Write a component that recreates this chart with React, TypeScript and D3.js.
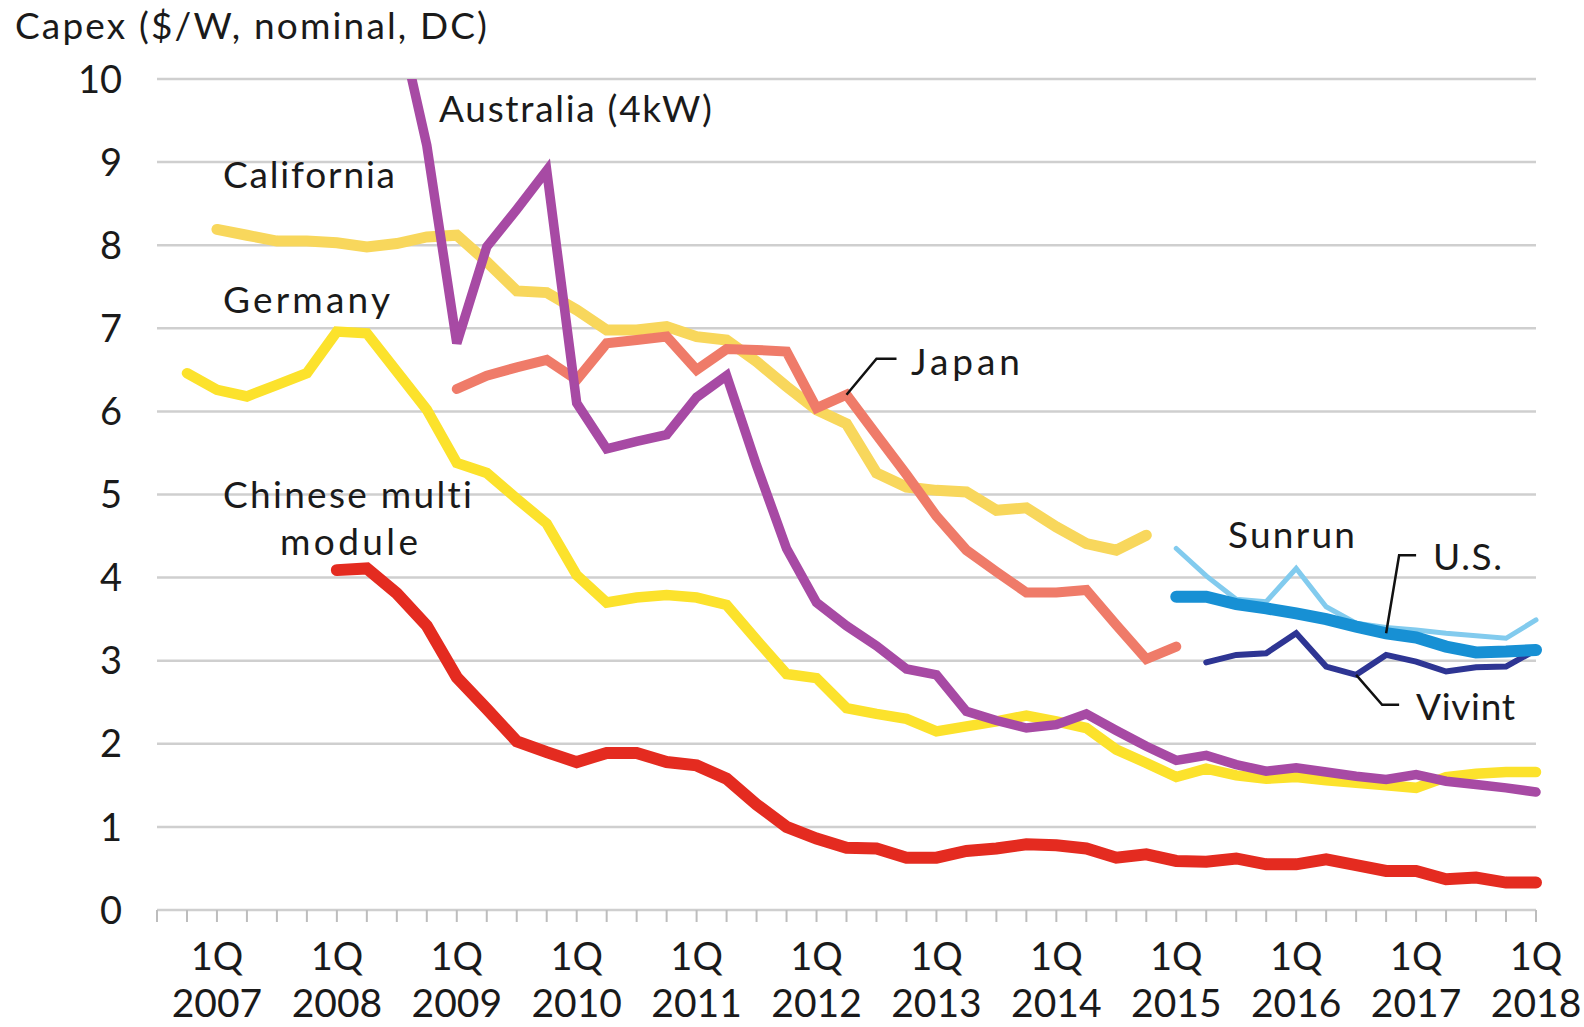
import React from "react";
import * as d3 from "d3";

// quarters from 3Q2006 to 1Q2018
const quarters: string[] = d3
  .range(47)
  .map((i) => `${((i + 2) % 4) + 1}Q${2006 + Math.floor((i + 2) / 4)}`);

const yearTicks = ["2007", "2008", "2009", "2010", "2011", "2012", "2013", "2014", "2015", "2016", "2017", "2018"];
const yTicks = [0, 1, 2, 3, 4, 5, 6, 7, 8, 9, 10];

// $/W, one value per quarter from the start quarter
const california = [
  8.19, 8.12, 8.05, 8.05, 8.03, 7.98, 8.02, 8.1, 8.12, 7.8, 7.45, 7.43, 7.22, 6.98, 6.98, 7.02,
  6.9, 6.86, 6.6, 6.3, 6.02, 5.85, 5.26, 5.09, 5.05, 5.03, 4.81, 4.84, 4.61, 4.41, 4.33, 4.51,
];
const germany = [
  6.46, 6.26, 6.18, 6.32, 6.46, 6.96, 6.94, 6.48, 6.02, 5.38, 5.26, 4.95, 4.65, 4.03, 3.7, 3.76,
  3.79, 3.76, 3.67, 3.25, 2.84, 2.79, 2.43, 2.36, 2.3, 2.15, 2.21, 2.27, 2.34, 2.27, 2.19, 1.93,
  1.77, 1.6, 1.7, 1.62, 1.58, 1.6, 1.56, 1.53, 1.5, 1.47, 1.6, 1.64, 1.66, 1.66,
];
const australia = [
  10.8, 9.2, 6.82, 7.98, 8.43, 8.9, 6.1, 5.55, 5.64, 5.72, 6.17, 6.43, 5.35, 4.35, 3.7, 3.42,
  3.18, 2.9, 2.83, 2.39, 2.28, 2.19, 2.23, 2.36, 2.16, 1.97, 1.8, 1.86, 1.75, 1.67, 1.71, 1.66,
  1.61, 1.57, 1.63, 1.55, 1.51, 1.47, 1.42,
];
const japan = [
  6.27, 6.43, 6.53, 6.62, 6.38, 6.82, 6.86, 6.9, 6.5, 6.75, 6.74, 6.72, 6.04, 6.2, 5.72, 5.24,
  4.74, 4.33, 4.07, 3.82, 3.82, 3.85, 3.43, 3.02, 3.17,
];
const chinese = [
  4.09, 4.11, 3.81, 3.42, 2.8, 2.42, 2.03, 1.9, 1.78, 1.89, 1.89, 1.78, 1.74, 1.58, 1.27, 1.0,
  0.86, 0.75, 0.74, 0.63, 0.63, 0.71, 0.74, 0.79, 0.78, 0.74, 0.63, 0.67, 0.59, 0.58, 0.62, 0.55,
  0.55, 0.61, 0.54, 0.47, 0.47, 0.37, 0.39, 0.33, 0.33,
];
const sunrun = [4.35, 4.02, 3.74, 3.71, 4.11, 3.65, 3.45, 3.4, 3.37, 3.33, 3.3, 3.27, 3.49];
const us = [3.77, 3.77, 3.68, 3.63, 3.57, 3.5, 3.41, 3.33, 3.28, 3.17, 3.1, 3.11, 3.13];
const vivint = [2.98, 3.07, 3.09, 3.33, 2.93, 2.83, 3.07, 2.99, 2.87, 2.92, 2.93, 3.13];

const series = [
  { name: "California", start: "1Q2007", values: california, color: "#F8D75C", width: 11 },
  { name: "Germany", start: "4Q2006", values: germany, color: "#FCE22C", width: 10.5 },
  { name: "Japan", start: "1Q2009", values: japan, color: "#EF7B69", width: 10 },
  { name: "Australia", start: "3Q2008", values: australia, color: "#A74AA4", width: 9.5 },
  { name: "Chinese", start: "1Q2008", values: chinese, color: "#E42B20", width: 12 },
  { name: "Sunrun", start: "1Q2015", values: sunrun, color: "#82CBEE", width: 5 },
  { name: "Vivint", start: "2Q2015", values: vivint, color: "#2E3593", width: 6 },
  { name: "U.S.", start: "1Q2015", values: us, color: "#1790D4", width: 12 },
];

const labels = [
  { text: "Australia (4kW)", x: 439, y: 122, len: 273 },
  { text: "California", x: 223, y: 188, len: 172 },
  { text: "Germany", x: 223, y: 313, len: 167 },
  { text: "Chinese multi", x: 223, y: 508, len: 249 },
  { text: "module", x: 280, y: 555, len: 138 },
  { text: "Japan", x: 911, y: 375, len: 109 },
  { text: "Sunrun", x: 1228, y: 548, len: 127 },
  { text: "U.S.", x: 1433, y: 570, len: 69 },
  { text: "Vivint", x: 1416, y: 720, len: 99 },
];

const font = "Lato, 'Open Sans', sans-serif";

export default function App() {
  const width = 1584;
  const height = 1027;

  const x = d3.scalePoint<string>().domain(quarters).range([157, 1536]);
  const y = d3.scaleLinear().domain([0, 10]).range([910, 79]);

  const line = d3
    .line<[string, number]>()
    .x((d) => x(d[0]) as number)
    .y((d) => y(d[1]));

  const points = (s: { start: string; values: number[] }) => {
    const i0 = quarters.indexOf(s.start);
    return s.values.map((v, i) => [quarters[i0 + i], v] as [string, number]);
  };

  const at = (name: string, q: string) => {
    const s = series.find((d) => d.name === name)!;
    const v = s.values[quarters.indexOf(q) - quarters.indexOf(s.start)];
    return [x(q) as number, y(v)];
  };

  const [jx, jy] = at("Japan", "2Q2012");
  const [ux, uy] = at("U.S.", "4Q2016");
  const [vx, vy] = at("Vivint", "3Q2016");

  const x0 = x.range()[0];
  const x1 = x.range()[1];

  return (
    <svg
      width={width}
      height={height}
      style={{ position: "absolute", left: 0, top: 0, background: "#fff", fontVariantLigatures: "none" }}
      fontFamily={font}
    >
      <defs>
        <clipPath id="plot">
          <rect x={0} y={y(10)} width={width} height={height - y(10)} />
        </clipPath>
      </defs>

      {/* grid */}
      <g className="grid">
        {yTicks.map((t) => (
          <line key={t} x1={x0} x2={x1} y1={y(t)} y2={y(t)} stroke="#cfcfcf" strokeWidth={2.5} />
        ))}
      </g>

      {/* quarterly ticks */}
      <g className="x-axis">
        {quarters.map((q) => (
          <line key={q} x1={x(q)} x2={x(q)} y1={y(0)} y2={y(0) + 12} stroke="#bdbdbd" strokeWidth={2} />
        ))}
        {yearTicks.map((yr) => (
          <g key={yr} transform={`translate(${x("1Q" + yr)},0)`} fill="#1a1a1a" textAnchor="middle">
            <text y={970} fontSize={38}>
              1Q
            </text>
            <text y={1017} fontSize={39}>
              {yr}
            </text>
          </g>
        ))}
      </g>

      <g className="y-axis" fill="#1a1a1a" textAnchor="end">
        {yTicks.map((t) => (
          <text key={t} x={122} y={y(t)} dy="0.36em" fontSize={38}>
            {t}
          </text>
        ))}
      </g>

      <text x={15} y={39} fontSize={37} fill="#1a1a1a" textLength={472}>
        Capex ($/W, nominal, DC)
      </text>

      <g className="plot-area" clipPath="url(#plot)">
        {series.map((s) => (
          <path
            key={s.name}
            d={line(points(s)) || ""}
            fill="none"
            stroke={s.color}
            strokeWidth={s.width}
            strokeLinecap="round"
            strokeLinejoin="miter"
          />
        ))}
      </g>

      <g className="leaders" fill="none" stroke="#111" strokeWidth={2.5}>
        <polyline points={`${jx},${jy} ${jx + 30},${jy - 36} ${jx + 50},${jy - 36}`} />
        <polyline points={`${ux},${uy} ${ux + 13},${uy - 78} ${ux + 30},${uy - 78}`} />
        <polyline points={`${vx},${vy} ${vx + 26},${vy + 30} ${vx + 43},${vy + 30}`} />
      </g>

      <g className="labels" fill="#1a1a1a" fontSize={37}>
        {labels.map((l) => (
          <text key={l.text} x={l.x} y={l.y} textLength={l.len}>
            {l.text}
          </text>
        ))}
      </g>
    </svg>
  );
}
